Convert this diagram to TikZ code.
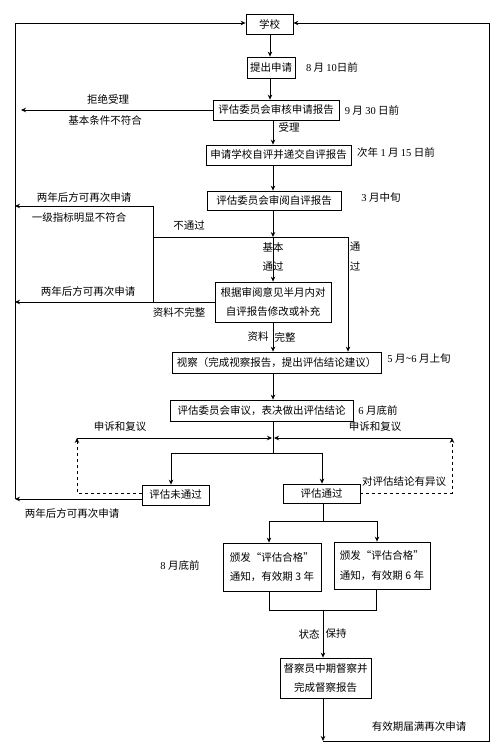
\documentclass[tikz,border=0pt]{standalone}
\usepackage{fontspec}
\setmainfont{Noto Sans CJK SC}
\newfontfamily\serdig{Liberation Serif}
\newcommand{\dg}[1]{{\serdig #1}}
\usetikzlibrary{arrows.meta}
\begin{document}
\begin{tikzpicture}[x=1pt,y=-1pt,
  every node/.style={font=\fontsize{10.5}{19.5}\selectfont, inner sep=0pt},
  box/.style={draw, line width=0.8pt, minimum width=#1, align=center},
  ln/.style={line width=0.8pt},
  arr/.style={line width=0.8pt, -{Stealth[length=5pt,width=4.5pt]}},
  darr/.style={line width=0.8pt, dashed, -{Stealth[length=5pt,width=4.5pt]}}]
\useasboundingbox (0,0) rectangle (500,755);
% boxes
\node[box=47pt, minimum height=20pt] (school) at (269.5,24) {学校};
\node[box=48pt, minimum height=21pt] (apply) at (271,67.5) {提出申请};
\node[box=126pt, minimum height=20pt] (rev1) at (276,110) {评估委员会审核申请报告};
\node[box=145pt, minimum height=20pt] (self) at (278.5,155) {申请学校自评并递交自评报告};
\node[box=134pt, minimum height=19pt] (rev2) at (274,200.5) {评估委员会审阅自评报告};
\node[box=116pt, minimum height=40pt] (revise) at (273,302) {根据审阅意见半月内对\\自评报告修改或补充};
\node[box=209pt, minimum height=21pt] (visit) at (276.5,362.5) {视察（完成视察报告，提出评估结论建议）};
\node[box=183pt, minimum height=21pt] (decide) at (261.5,410.5) {评估委员会审议，表决做出评估结论};
\node[box=67pt, minimum height=20pt] (fail) at (175.5,495) {评估未通过};
\node[box=77pt, minimum height=19pt] (pass) at (321.5,493.5) {评估通过};
\node[box=98pt, minimum height=48pt, align=left] (c3) at (272,567) {颁发“评估合格”\\通知，有效期 3 年};
\node[box=96pt, minimum height=47pt, align=left] (c6) at (382,565.5) {颁发“评估合格”\\通知，有效期 6 年};
\node[box=91pt, minimum height=40pt] (insp) at (325.5,678) {督察员中期督察并\\完成督察报告};
% labels
\node (t1) at (332,67) {\dg{8} 月 \dg{10}日前};
\node (t2) at (372,110) {\dg{9} 月 \dg{30} 日前};
\node (t3) at (108,99) {拒绝受理};
\node (t4) at (105,120) {基本条件不符合};
\node (t5) at (289,127) {受理};
\node (t6) at (396,153) {次年 \dg{1} 月 \dg{15} 日前};
\node (t7) at (381,198) {\dg{3} 月中旬};
\node (t8) at (84,197) {两年后方可再次申请};
\node (t9) at (79,218) {一级指标明显不符合};
\node (t10) at (189,226) {不通过};
\node (t11) at (273,248) {基本};
\node (t12) at (273,266) {通过};
\node (t13) at (355,247) {通};
\node (t14) at (355,266) {过};
\node (t15) at (88,291) {两年后方可再次申请};
\node (t16) at (179,312) {资料不完整};
\node (t17) at (258,337) {资料};
\node (t18) at (285,337) {完整};
\node (t19) at (419,359) {\dg{5} 月\textasciitilde\dg{6} 月上旬};
\node (t20) at (378,410) {\dg{6} 月底前};
\node (t21) at (120,427) {申诉和复议};
\node (t22) at (375,427) {申诉和复议};
\node (t23) at (404,482) {对评估结论有异议};
\node (t24) at (72,513) {两年后方可再次申请};
\node (t25) at (180,565) {\dg{8} 月底前};
\node (t26) at (309,634) {状态};
\node (t27) at (336,634) {保持};
\node (t28) at (419,727) {有效期届满再次申请};
% coordinates
\coordinate (L) at (15,0);
\coordinate (R) at (489,0);
\coordinate (m) at (273,0);
\coordinate (jl) at (153,237);
\coordinate (jr) at (348,237);
\coordinate (aL) at (77,438);
\coordinate (aR) at (452,438);
\coordinate (jc) at (273,438);
\coordinate (bl) at (171,453);
\coordinate (br) at (322,453);
\coordinate (pl) at (269,521);
\coordinate (pr) at (377,521);
\coordinate (ql) at (269,610);
\coordinate (qr) at (376,610);
\coordinate (end) at (323,741);
% connectors
\draw[arr] (school.south -| 270,0) -- (apply.north -| 270,0);
\draw[arr] (apply.south -| 270,0) -- (rev1.north -| 270,0);
\draw[arr] (rev1.west) -- (21,110);
\draw[arr] (rev1.south -| m) -- (self.north -| m);
\draw[arr] (self.south -| m) -- (rev2.north -| m);
\draw[arr] (rev2.south -| m) -- (m |- jl);
\draw[ln] (jl) -- (jr);
\draw[arr] (jr) -- (jr |- visit.north);
\draw[arr] (m |- jl) -- (m |- revise.north);
\draw[ln] (153,206) -- (153,302);
\draw[arr] (153,206) -- (L |- 0,206);
\draw[arr] (revise.west) -- (L |- revise.west);
\draw[arr] (revise.south -| m) -- (visit.north -| m);
\draw[arr] (visit.south -| m) -- (decide.north -| m);
\draw[ln] (decide.south -| m) -- (m |- bl);
\draw[arr] (aL) -- ([xshift=-1pt]jc);
\draw[arr] (aR) -- ([xshift=1pt]jc);
\draw[ln] (bl) -- (br);
\draw[arr] (bl) -- (bl |- fail.north);
\draw[arr] (br) -- (br |- pass.north);
\draw[darr] (fail.west |- 0,493) -- (aL |- 0,493) -- (aL);
\draw[darr] (pass.east |- 0,493) -- (aR |- 0,493) -- (aR);
\draw[arr] (fail.west |- 0,499) -- (L |- 0,499);
\draw[arr] (L |- 0,499) -- (L |- 0,23) -- (school.west |- 0,23);
\draw[ln] (pass.south -| 323,0) -- (323,521);
\draw[ln] (pl) -- (pr);
\draw[arr] (pl) -- (pl |- c3.north);
\draw[arr] (pr) -- (pr |- c6.north);
\draw[ln] (c3.south -| ql) -- (ql) -- (qr) -- (c6.south -| qr);
\draw[arr] (323,610) -- (insp.north -| 323,0);
\draw[arr] (insp.south -| end) -- (end);
\draw[arr] (end) -- (R |- end) -- (R |- 0,23) -- (school.east |- 0,23);
\end{tikzpicture}
\end{document}
